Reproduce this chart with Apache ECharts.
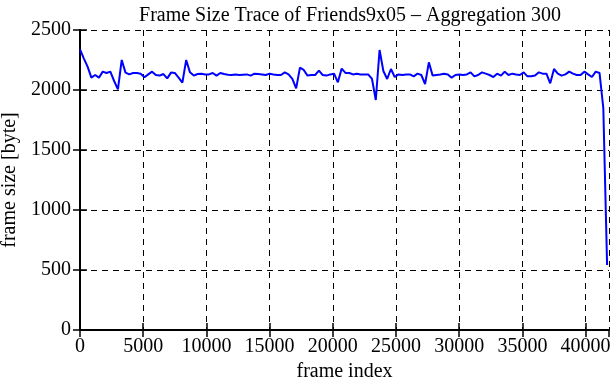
<!DOCTYPE html>
<html>
<head>
<meta charset="utf-8">
<script src="https://cdn.jsdelivr.net/npm/echarts@6/dist/echarts.min.js"></script>
<style>
  html, body { margin: 0; padding: 0; background: #fff; }
  #chart { width: 611px; height: 380px; }
</style>
</head>
<body>
<div id="chart"></div>
<script>
// one point every 300 frames (aggregation 300)
var aggregation = 300
var frameSizes = [
    2339, 2264, 2195, 2103, 2125, 2103, 2153, 2142, 2153, 2075,
    2005, 2250, 2145, 2130, 2142, 2142, 2136, 2106, 2130, 2153,
    2125, 2120, 2133, 2097, 2145, 2142, 2103, 2061, 2250, 2147,
    2120, 2133, 2136, 2130, 2130, 2142, 2120, 2142, 2133, 2128,
    2125, 2130, 2125, 2128, 2130, 2120, 2136, 2133, 2130, 2125,
    2136, 2130, 2125, 2125, 2147, 2130, 2092, 2014, 2186, 2167,
    2120, 2125, 2125, 2161, 2125, 2120, 2130, 2136, 2064, 2178,
    2142, 2142, 2130, 2136, 2130, 2130, 2130, 2092, 1917, 2333,
    2158, 2092, 2175, 2108, 2130, 2125, 2130, 2130, 2114, 2136,
    2125, 2050, 2230, 2120, 2125, 2130, 2136, 2130, 2103, 2125,
    2130, 2125, 2130, 2147, 2114, 2125, 2147, 2136, 2125, 2108,
    2136, 2120, 2153, 2125, 2136, 2130, 2125, 2147, 2114, 2114,
    2120, 2147, 2136, 2136, 2056, 2175, 2136, 2120, 2130, 2153,
    2136, 2125, 2125, 2153, 2130, 2108, 2153, 2142, 1850, 542
]
var xTicks = [0, 5000, 10000, 15000, 20000, 25000, 30000, 35000, 40000]
var yTicks = [0, 500, 1000, 1500, 2000, 2500]
var xMax = 41850

var points = []
for (var i = 0; i < frameSizes.length; i++) {
    points.push([i * aggregation, frameSizes[i]])
}

var font = 'Liberation Serif'
var black = '#000'

var option = {
    animation: false,
    title: {
        text: 'Frame Size Trace of Friends9x05 \u2013 Aggregation 300',
        left: 345,
        textAlign: 'center',
        top: 1,
        textStyle: { fontFamily: font, fontSize: 20, fontWeight: 'normal', color: black }
    },
    grid: { left: 80, right: 2, top: 30, bottom: 50, outerBoundsMode: 'none', containLabel: false },
    xAxis: [{
        type: 'value',
        min: 0,
        max: xMax,
        interval: 5000,
        name: 'frame index',
        nameLocation: 'middle',
        nameGap: 29,
        nameTextStyle: { fontFamily: font, fontSize: 20, color: black },
        axisLine: { lineStyle: { color: black, width: 2 } },
        axisTick: { inside: true, length: 7, lineStyle: { color: black, width: 1.5 } },
        axisLabel: {
            fontFamily: font, fontSize: 20, color: black, margin: 7,
            showMaxLabel: false,
            formatter: function (v) { return xTicks.indexOf(v) >= 0 ? String(v) : '' }
        },
        splitLine: { show: true, lineStyle: { color: black, type: [6, 5], width: 1 } }
    }, {
        type: 'value',
        position: 'top',
        min: 0,
        max: xMax,
        interval: 5000,
        axisLine: { lineStyle: { color: black, width: 2 } },
        axisTick: { inside: true, length: 7, lineStyle: { color: black, width: 1.5 } },
        axisLabel: { show: false },
        splitLine: { show: false }
    }],
    yAxis: [{
        type: 'value',
        min: 0,
        max: 2500,
        interval: 500,
        name: 'frame size [byte]',
        nameLocation: 'middle',
        nameGap: 56,
        nameTextStyle: { fontFamily: font, fontSize: 20, color: black },
        axisLine: { show: true, lineStyle: { color: black, width: 2 } },
        axisTick: { show: true, inside: true, length: 7, lineStyle: { color: black, width: 1.5 } },
        axisLabel: {
            fontFamily: font, fontSize: 20, color: black, margin: 9,
            formatter: function (v) { return yTicks.indexOf(v) >= 0 ? String(v) : '' }
        },
        splitLine: { show: true, lineStyle: { color: black, type: [6, 5], width: 1 } }
    }, {
        type: 'value',
        position: 'right',
        min: 0,
        max: 2500,
        interval: 500,
        axisLine: { show: true, lineStyle: { color: black, width: 2 } },
        axisTick: { show: true, inside: true, length: 7, lineStyle: { color: black, width: 1.5 } },
        axisLabel: { show: false },
        splitLine: { show: false }
    }],
    series: [{
        type: 'line',
        data: points,
        showSymbol: false,
        lineStyle: { color: '#0000ff', width: 2 },
        z: 1
    }]
}

var chart = echarts.init(document.getElementById('chart'))
chart.setOption(option)
</script>
</body>
</html>
